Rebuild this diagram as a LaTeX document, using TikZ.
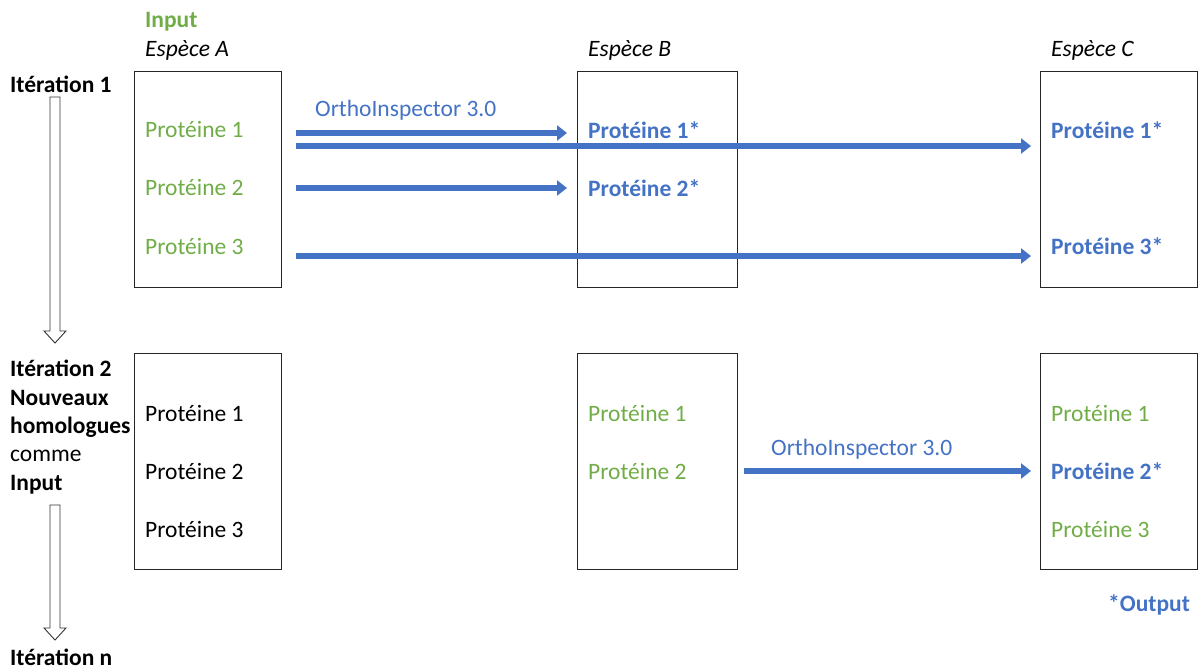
\documentclass[tikz,border=0pt]{standalone}
\usepackage{fontspec}
\setmainfont{Carlito}
\usetikzlibrary{arrows.meta,calc}
\definecolor{cgreen}{RGB}{112,173,71}
\definecolor{cblue}{RGB}{68,114,196}
\begin{document}
\begin{tikzpicture}[x=1pt,y=-1pt,
 box/.style={draw=black!85, line width=1.2pt, anchor=north west, minimum height=216pt, inner sep=0},
 txt/.style={anchor=west, inner sep=0, font=\fontsize{23.5}{28}\selectfont},
 gtxt/.style={txt, text=cgreen},
 btxt/.style={txt, text=cblue, font=\fontsize{23.5}{28}\selectfont\bfseries},
 ltxt/.style={txt, font=\fontsize{23.5}{28}\selectfont\bfseries},
 itxt/.style={txt, font=\fontsize{23.5}{28}\selectfont\itshape},
 flow/.style={draw=cblue, line width=6pt, -{Triangle[length=10pt,width=15pt]}},
 hollowarrow/.style={draw=black!80, fill=white, line width=0.9pt}
]
\useasboundingbox (0,0) rectangle (1198,669);

% boxes
\node[box, minimum width=147pt] (A1) at (134,71) {};
\node[box, minimum width=160pt] (B1) at (577,71) {};
\node[box, minimum width=157pt] (C1) at (1040,71) {};
\node[box, minimum width=147pt] (A2) at (134,353) {};
\node[box, minimum width=160pt] (B2) at (577,353) {};
\node[box, minimum width=157pt] (C2) at (1040,353) {};

% headers
\node[ltxt, text=cgreen] (inp) at (145,22) {Input};
\node[itxt] (spA) at (145,50) {Espèce A};
\node[itxt] (spB) at (588,50) {Espèce B};
\node[itxt] (spC) at (1051,50) {Espèce C};

% left labels
\node[ltxt] (it1) at (10,84) {Itération 1};
\node[ltxt] (it2) at (10,368) {Itération 2};
\node[ltxt] (nv) at (10,398) {Nouveaux};
\node[ltxt] (hom) at (10,427) {homologues};
\node[txt] (com) at (10,456) {comme};
\node[ltxt] (inp2) at (10,485) {Input};
\node[ltxt] (itn) at (10,657) {Itération n};

% iteration 1 proteins
\node[gtxt] (a11) at (145,130) {Protéine 1};
\node[gtxt] (a12) at (145,188) {Protéine 2};
\node[gtxt] (a13) at (145,246) {Protéine 3};
\node[btxt] (b11) at (588,130) {Protéine 1*};
\node[btxt] (b12) at (588,188) {Protéine 2*};
\node[btxt] (c11) at (1051,130) {Protéine 1*};
\node[btxt] (c13) at (1051,246) {Protéine 3*};

% iteration 2 proteins
\node[txt] (a21) at (145,413) {Protéine 1};
\node[txt] (a22) at (145,471) {Protéine 2};
\node[txt] (a23) at (145,529) {Protéine 3};
\node[gtxt] (b21) at (588,413) {Protéine 1};
\node[gtxt] (b22) at (588,471) {Protéine 2};
\node[gtxt] (c21) at (1051,413) {Protéine 1};
\node[btxt] (c22) at (1051,471) {Protéine 2*};
\node[gtxt] (c23) at (1051,529) {Protéine 3};

\node[txt, text=cblue] (oi1) at (315,110) {OrthoInspector 3.0};
\node[txt, text=cblue] (oi2) at (771,449) {OrthoInspector 3.0};
\node[btxt] (out) at (1108,605) {*Output};

% arrow end points
\coordinate (s1) at (296,133);
\coordinate (e1) at (567,133);
\coordinate (s1l) at (296,146);
\coordinate (e1l) at (1031,146);
\coordinate (s2) at (296,188);
\coordinate (e2) at (567,188);
\coordinate (s3) at (296,256);
\coordinate (e3) at (1031,256);
\coordinate (s4) at (744,471);
\coordinate (e4) at (1031,471);

\draw[flow] (s1) -- (e1);
\draw[flow] (s1l) -- (e1l);
\draw[flow] (s2) -- (e2);
\draw[flow] (s3) -- (e3);
\draw[flow] (s4) -- (e4);

% hollow down arrows
\coordinate (d1t) at (55,97);
\coordinate (d1b) at (55,343);
\coordinate (d2t) at (55,505);
\coordinate (d2b) at (55,640);
\draw[hollowarrow] ($(d1t)+(-5,0)$) -- ($(d1t)+(5,0)$) -- ($(d1b)+(5,-12)$) -- ($(d1b)+(11,-12)$) -- (d1b) -- ($(d1b)+(-11,-12)$) -- ($(d1b)+(-5,-12)$) -- cycle;
\draw[hollowarrow] ($(d2t)+(-5,0)$) -- ($(d2t)+(5,0)$) -- ($(d2b)+(5,-12)$) -- ($(d2b)+(11,-12)$) -- (d2b) -- ($(d2b)+(-11,-12)$) -- ($(d2b)+(-5,-12)$) -- cycle;
\end{tikzpicture}
\end{document}
